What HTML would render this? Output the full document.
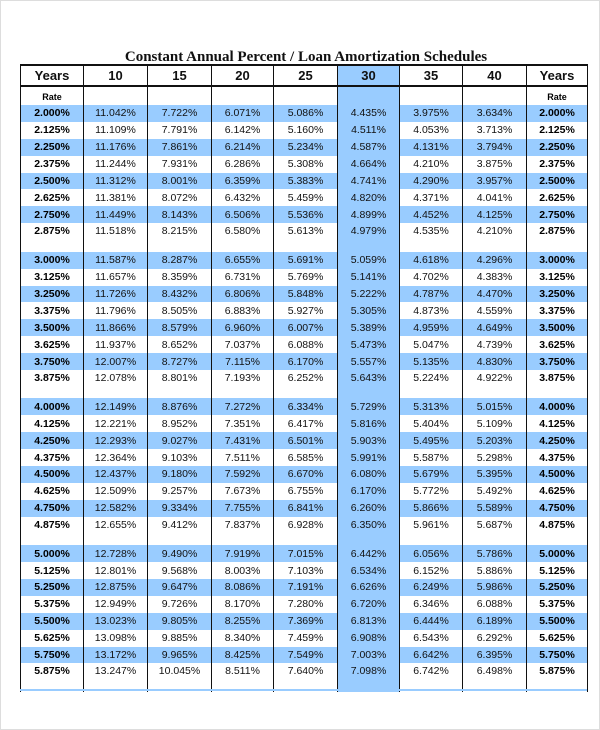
<!DOCTYPE html>
<html><head><meta charset="utf-8"><style>
html,body{margin:0;padding:0;background:#fff}
body{width:600px;height:730px;position:relative;overflow:hidden;font-family:"Liberation Sans",Arial,sans-serif}
.frame{position:absolute;left:0;top:0;width:598px;height:728px;border:1px solid #ddd}
.title{position:absolute;left:0;width:612px;top:49px;text-align:center;font-family:"Liberation Serif",serif;font-weight:bold;font-size:15px;color:#111}
table{position:absolute;left:20px;top:64px;width:567px;border-collapse:collapse;table-layout:fixed}
td{border-left:1.5px solid #111;border-right:1.5px solid #111;text-align:center;font-size:10.5px;color:#111;padding:1px 0 0 0;height:15.9px;line-height:15px;overflow:hidden}
tr.h td{height:19px;padding:0;border-top:2px solid #111;border-bottom:2px solid #111;font-weight:bold;font-size:13px;color:#111;line-height:16px}
tr.r td{height:18px;padding:0;font-weight:bold;font-size:9px;vertical-align:bottom;line-height:15px}
tr.b td{background:#99ccff}
tr.l td{height:27.5px;vertical-align:top}
td.c{background:#99ccff}
td:first-child,td:last-child{font-weight:bold;color:#000}
tr.r td:first-child,tr.r td:last-child{font-size:9px}
</style></head><body>
<div class="frame"></div>
<div class="title">Constant Annual Percent / Loan Amortization Schedules</div>
<table>
<colgroup><col style="width:63px"><col style="width:64px"><col style="width:64px"><col style="width:62px"><col style="width:64px"><col style="width:62px"><col style="width:63px"><col style="width:64px"><col style="width:61px"></colgroup>
<tr class="h"><td style="font-size:13px">Years</td><td>10</td><td>15</td><td>20</td><td>25</td><td class="c">30</td><td>35</td><td>40</td><td style="font-size:13px">Years</td></tr>
<tr class="r"><td>Rate</td><td></td><td></td><td></td><td></td><td class="c"></td><td></td><td></td><td>Rate</td></tr>
<tr class="b"><td>2.000%</td><td>11.042%</td><td>7.722%</td><td>6.071%</td><td>5.086%</td><td class="c">4.435%</td><td>3.975%</td><td>3.634%</td><td>2.000%</td></tr>
<tr><td>2.125%</td><td>11.109%</td><td>7.791%</td><td>6.142%</td><td>5.160%</td><td class="c">4.511%</td><td>4.053%</td><td>3.713%</td><td>2.125%</td></tr>
<tr class="b"><td>2.250%</td><td>11.176%</td><td>7.861%</td><td>6.214%</td><td>5.234%</td><td class="c">4.587%</td><td>4.131%</td><td>3.794%</td><td>2.250%</td></tr>
<tr><td>2.375%</td><td>11.244%</td><td>7.931%</td><td>6.286%</td><td>5.308%</td><td class="c">4.664%</td><td>4.210%</td><td>3.875%</td><td>2.375%</td></tr>
<tr class="b"><td>2.500%</td><td>11.312%</td><td>8.001%</td><td>6.359%</td><td>5.383%</td><td class="c">4.741%</td><td>4.290%</td><td>3.957%</td><td>2.500%</td></tr>
<tr><td>2.625%</td><td>11.381%</td><td>8.072%</td><td>6.432%</td><td>5.459%</td><td class="c">4.820%</td><td>4.371%</td><td>4.041%</td><td>2.625%</td></tr>
<tr class="b"><td>2.750%</td><td>11.449%</td><td>8.143%</td><td>6.506%</td><td>5.536%</td><td class="c">4.899%</td><td>4.452%</td><td>4.125%</td><td>2.750%</td></tr>
<tr class="l"><td>2.875%</td><td>11.518%</td><td>8.215%</td><td>6.580%</td><td>5.613%</td><td class="c">4.979%</td><td>4.535%</td><td>4.210%</td><td>2.875%</td></tr>
<tr class="b"><td>3.000%</td><td>11.587%</td><td>8.287%</td><td>6.655%</td><td>5.691%</td><td class="c">5.059%</td><td>4.618%</td><td>4.296%</td><td>3.000%</td></tr>
<tr><td>3.125%</td><td>11.657%</td><td>8.359%</td><td>6.731%</td><td>5.769%</td><td class="c">5.141%</td><td>4.702%</td><td>4.383%</td><td>3.125%</td></tr>
<tr class="b"><td>3.250%</td><td>11.726%</td><td>8.432%</td><td>6.806%</td><td>5.848%</td><td class="c">5.222%</td><td>4.787%</td><td>4.470%</td><td>3.250%</td></tr>
<tr><td>3.375%</td><td>11.796%</td><td>8.505%</td><td>6.883%</td><td>5.927%</td><td class="c">5.305%</td><td>4.873%</td><td>4.559%</td><td>3.375%</td></tr>
<tr class="b"><td>3.500%</td><td>11.866%</td><td>8.579%</td><td>6.960%</td><td>6.007%</td><td class="c">5.389%</td><td>4.959%</td><td>4.649%</td><td>3.500%</td></tr>
<tr><td>3.625%</td><td>11.937%</td><td>8.652%</td><td>7.037%</td><td>6.088%</td><td class="c">5.473%</td><td>5.047%</td><td>4.739%</td><td>3.625%</td></tr>
<tr class="b"><td>3.750%</td><td>12.007%</td><td>8.727%</td><td>7.115%</td><td>6.170%</td><td class="c">5.557%</td><td>5.135%</td><td>4.830%</td><td>3.750%</td></tr>
<tr class="l"><td>3.875%</td><td>12.078%</td><td>8.801%</td><td>7.193%</td><td>6.252%</td><td class="c">5.643%</td><td>5.224%</td><td>4.922%</td><td>3.875%</td></tr>
<tr class="b"><td>4.000%</td><td>12.149%</td><td>8.876%</td><td>7.272%</td><td>6.334%</td><td class="c">5.729%</td><td>5.313%</td><td>5.015%</td><td>4.000%</td></tr>
<tr><td>4.125%</td><td>12.221%</td><td>8.952%</td><td>7.351%</td><td>6.417%</td><td class="c">5.816%</td><td>5.404%</td><td>5.109%</td><td>4.125%</td></tr>
<tr class="b"><td>4.250%</td><td>12.293%</td><td>9.027%</td><td>7.431%</td><td>6.501%</td><td class="c">5.903%</td><td>5.495%</td><td>5.203%</td><td>4.250%</td></tr>
<tr><td>4.375%</td><td>12.364%</td><td>9.103%</td><td>7.511%</td><td>6.585%</td><td class="c">5.991%</td><td>5.587%</td><td>5.298%</td><td>4.375%</td></tr>
<tr class="b"><td>4.500%</td><td>12.437%</td><td>9.180%</td><td>7.592%</td><td>6.670%</td><td class="c">6.080%</td><td>5.679%</td><td>5.395%</td><td>4.500%</td></tr>
<tr><td>4.625%</td><td>12.509%</td><td>9.257%</td><td>7.673%</td><td>6.755%</td><td class="c">6.170%</td><td>5.772%</td><td>5.492%</td><td>4.625%</td></tr>
<tr class="b"><td>4.750%</td><td>12.582%</td><td>9.334%</td><td>7.755%</td><td>6.841%</td><td class="c">6.260%</td><td>5.866%</td><td>5.589%</td><td>4.750%</td></tr>
<tr class="l"><td>4.875%</td><td>12.655%</td><td>9.412%</td><td>7.837%</td><td>6.928%</td><td class="c">6.350%</td><td>5.961%</td><td>5.687%</td><td>4.875%</td></tr>
<tr class="b"><td>5.000%</td><td>12.728%</td><td>9.490%</td><td>7.919%</td><td>7.015%</td><td class="c">6.442%</td><td>6.056%</td><td>5.786%</td><td>5.000%</td></tr>
<tr><td>5.125%</td><td>12.801%</td><td>9.568%</td><td>8.003%</td><td>7.103%</td><td class="c">6.534%</td><td>6.152%</td><td>5.886%</td><td>5.125%</td></tr>
<tr class="b"><td>5.250%</td><td>12.875%</td><td>9.647%</td><td>8.086%</td><td>7.191%</td><td class="c">6.626%</td><td>6.249%</td><td>5.986%</td><td>5.250%</td></tr>
<tr><td>5.375%</td><td>12.949%</td><td>9.726%</td><td>8.170%</td><td>7.280%</td><td class="c">6.720%</td><td>6.346%</td><td>6.088%</td><td>5.375%</td></tr>
<tr class="b"><td>5.500%</td><td>13.023%</td><td>9.805%</td><td>8.255%</td><td>7.369%</td><td class="c">6.813%</td><td>6.444%</td><td>6.189%</td><td>5.500%</td></tr>
<tr><td>5.625%</td><td>13.098%</td><td>9.885%</td><td>8.340%</td><td>7.459%</td><td class="c">6.908%</td><td>6.543%</td><td>6.292%</td><td>5.625%</td></tr>
<tr class="b"><td>5.750%</td><td>13.172%</td><td>9.965%</td><td>8.425%</td><td>7.549%</td><td class="c">7.003%</td><td>6.642%</td><td>6.395%</td><td>5.750%</td></tr>
<tr class="l"><td>5.875%</td><td>13.247%</td><td>10.045%</td><td>8.511%</td><td>7.640%</td><td class="c">7.098%</td><td>6.742%</td><td>6.498%</td><td>5.875%</td></tr>
</table>
<div style="position:absolute;left:20px;top:689px;width:567px;height:2px;background:#99ccff"></div>
</body></html>
